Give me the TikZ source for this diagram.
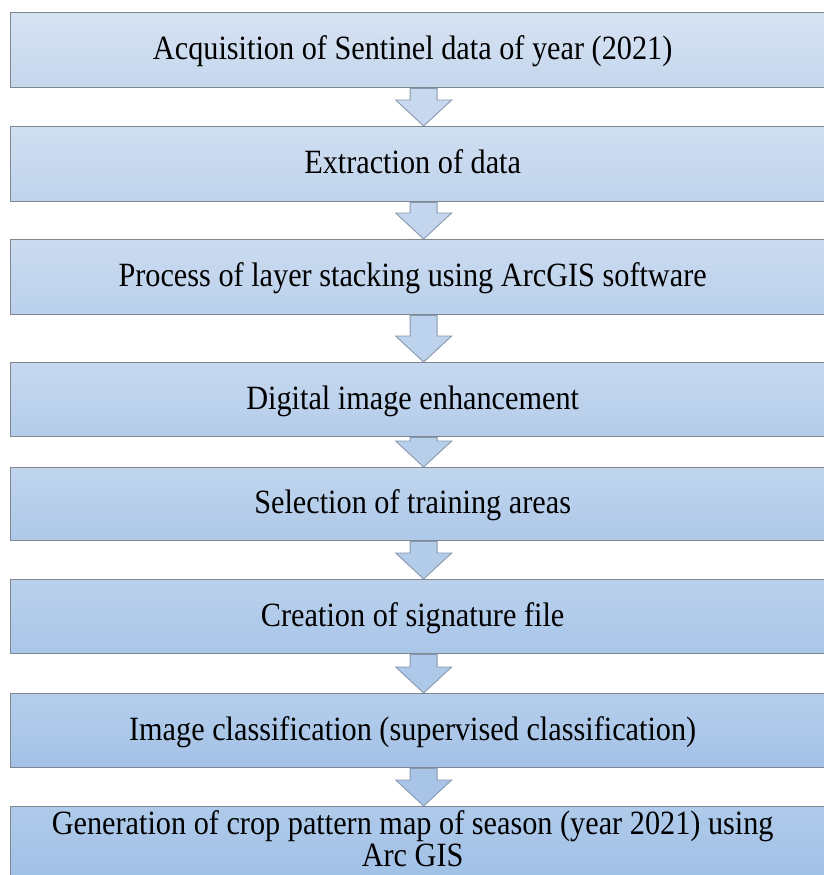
\documentclass[tikz,border=0pt]{standalone}
\usepackage{fontspec}
\setmainfont[FakeStretch=0.89]{Liberation Serif}
\usetikzlibrary{calc}

\definecolor{boxtopA}{HTML}{D6E2F2}
\definecolor{boxbotA}{HTML}{C5D7ED}
\definecolor{boxtopB}{HTML}{AFCAEA}
\definecolor{boxbotB}{HTML}{9DBEE6}
\definecolor{arrowA}{HTML}{C8D9EF}
\definecolor{arrowB}{HTML}{A8C5E8}
\definecolor{edgegray}{HTML}{7F8690}
\definecolor{arrowedge}{HTML}{8797AC}

\tikzset{
    stepbox/.style={draw=edgegray, line width=1.3pt, rectangle, anchor=north west,
        minimum width=826pt, inner sep=0pt},
    steptext/.style={font=\fontsize{34}{32}\selectfont, align=center, inner sep=0pt, anchor=base},
    flowarrow/.style={draw=arrowedge, line width=0.9pt, line join=miter}
}

\begin{document}
\begin{tikzpicture}[x=1pt, y=-1pt]
    % Canvas (boxes run past the right edge)
    \useasboundingbox (0,0) rectangle (824,875);

    % Process boxes, getting darker down the chain
    \foreach \n/\ytop/\h/\dy/\txt in {
        1/12/75/9.5/{Acquisition of Sentinel data of year (2021)},
        2/126/75/9.5/{Extraction of data},
        3/239/75/9.5/{Process of layer stacking using ArcGIS software},
        4/362/74/9.5/{Digital image enhancement},
        5/467/73/9.5/{Selection of training areas},
        6/579/74/9.5/{Creation of signature file},
        7/693/74/9.5/{Image classification (supervised classification)},
        8/806/90/15/{Generation of crop pattern map of season (year 2021) using\\Arc GIS}} {
        \pgfmathtruncatemacro{\shade}{(\n-1)*100/7}
        \node[stepbox, minimum height=\h pt,
              top color=boxtopB!\shade!boxtopA, bottom color=boxbotB!\shade!boxbotA]
              (b\n) at (10,\ytop) {};
        \node[steptext] (t\n) at ($(b\n.center)+(-11,\dy)$) {\txt};
    }

    % Block arrows between the boxes
    \foreach \a/\b in {1/2, 2/3, 3/4, 4/5, 5/6, 6/7, 7/8} {
        \pgfmathtruncatemacro{\shade}{(\a-1)*100/6}
        \draw[flowarrow, fill=arrowB!\shade!arrowA]
            ($(b\a.south)+(-13.5,0)$) -- ($(b\b.north)+(-13.5,-26)$)
            -- ($(b\b.north)+(-28,-26)$) -- (b\b.north)
            -- ($(b\b.north)+(28,-26)$) -- ($(b\b.north)+(13.5,-26)$)
            -- ($(b\a.south)+(13.5,0)$) -- cycle;
    }
\end{tikzpicture}
\end{document}
